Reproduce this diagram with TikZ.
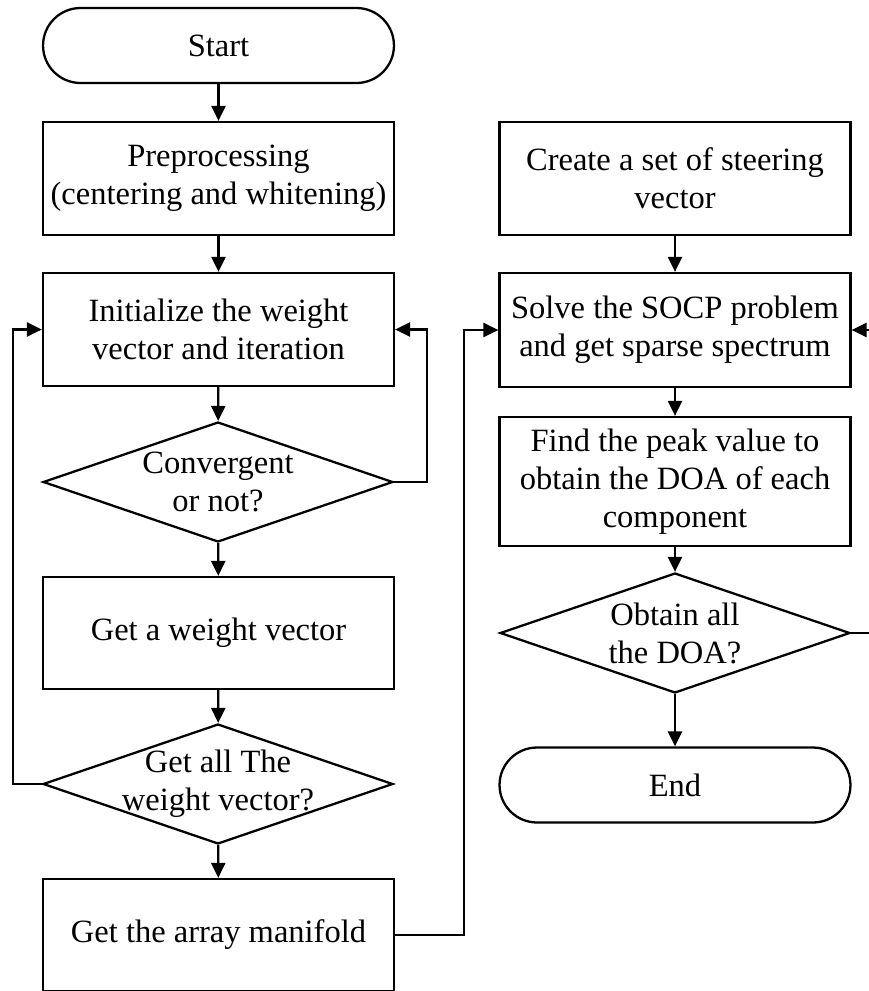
\documentclass[tikz,border=0pt]{standalone}
\usepackage{fontspec}
\setmainfont{Liberation Serif}
\usetikzlibrary{shapes.geometric,arrows.meta}
\begin{document}
\begin{tikzpicture}[x=0.02cm,y=-0.02cm,
  every node/.style={font=\fontsize{18.5}{21.6}\selectfont, align=center},
  procbox/.style={draw, line width=1.3pt, rectangle, minimum width=7.02cm, inner sep=0pt},
  termbox/.style={draw, line width=1.3pt, rectangle, rounded corners=0.75cm, minimum width=7.02cm, minimum height=1.5cm, inner sep=0pt},
  decbox/.style={draw, line width=1.3pt, diamond, minimum width=7.0cm, minimum height=2.4cm, inner sep=0pt},
  conn/.style={line width=1.3pt, -{Triangle[length=0.3cm,width=0.28cm]}},
  plain/.style={line width=1.3pt}]
\useasboundingbox (0,0) rectangle (869,991);
\clip (0,0) rectangle (869,991);
% left column
\node[termbox] (start) at (218.5,45.5) {Start};
\node[procbox, minimum height=2.26cm] (pre) at (218.5,178.5) {Preprocessing\\(centering and whitening)};
\node[procbox, minimum height=2.26cm] (init) at (218.5,329.5) {Initialize the weight\\vector and iteration};
\node[decbox] (conv) at (218,482) {};
\node at (conv.center) {Convergent\\or not?};
\node[procbox, minimum height=2.24cm] (getw) at (218.5,633) {Get a weight vector};
\node[decbox] (getall) at (218,784) {};
\node at (getall.center) {Get all The\\weight vector?};
\node[procbox, minimum height=2.24cm] (arr) at (218.5,935) {Get the array manifold};
% right column
\node[procbox, minimum height=2.26cm] (create) at (675,178.5) {Create a set of steering\\vector};
\node[procbox, minimum height=2.28cm] (solve) at (675,330) {Solve the SOCP problem\\and get sparse spectrum};
\node[procbox, minimum height=2.58cm] (find) at (675,481.5) {Find the peak value to\\obtain the DOA of each\\component};
\node[decbox] (obt) at (675,633) {};
\node at (obt.center) {Obtain all\\the DOA?};
\node[termbox] (end) at (675,785) {End};
% connectors
\draw[conn] (start) -- (pre);
\draw[conn] (pre) -- (init);
\draw[conn] (init) -- (conv);
\draw[conn] (conv) -- (getw);
\draw[conn] (getw) -- (getall);
\draw[conn] (getall) -- (arr);
\draw[conn] (conv.east) -- ++(33,0) |- (init.east);
\draw[conn] (getall.west) -- ++(-29,0) |- (init.west);
\draw[conn] (arr.east) -- ++(69,0) |- (solve.west);
\draw[conn] (create) -- (solve);
\draw[conn] (solve) -- (find);
\draw[conn] (find) -- (obt);
\draw[conn] (obt) -- (end);
\draw[conn] (obt.east) -- ++(40,0) |- (solve.east);
\end{tikzpicture}
\end{document}
